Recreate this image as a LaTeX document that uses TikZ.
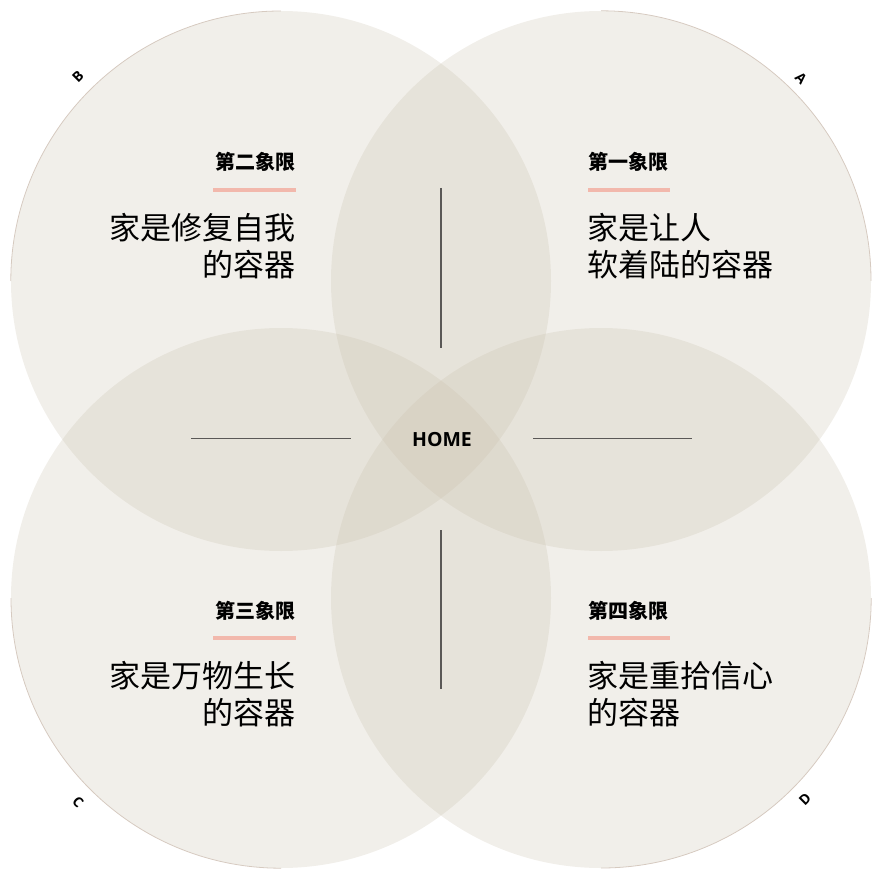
\documentclass[tikz,border=0pt]{standalone}
\usepackage{fontspec}
\newfontfamily\cjk{Noto Sans CJK SC}
\newfontfamily\osans{Open Sans}
\definecolor{circfill}{RGB}{199,191,171}
\definecolor{pinkbar}{RGB}{242,184,172}
\definecolor{rimc}{RGB}{214,202,192}
\definecolor{lineg}{RGB}{90,88,86}
\begin{document}
\begin{tikzpicture}[x=1pt,y=-1pt,
  petal/.style={circle, minimum size=540pt, inner sep=0pt, fill=circfill, fill opacity=0.25, draw=none},
  rim/.style={draw=rimc, line width=0.8pt},
  axisline/.style={draw=lineg, line width=1.5pt},
  bar/.style={draw=pinkbar, line width=4pt},
  title/.style={font=\cjk\bfseries\fontsize{20}{24}\selectfont, inner sep=0pt},
  body/.style={font=\cjk\fontsize{31}{36}\selectfont, inner sep=0pt},
  corner/.style={font=\osans\bfseries\fontsize{14}{16}\selectfont, inner sep=0pt}]
\useasboundingbox (0,0) rectangle (875,869);
% circles
\node[petal] (qB) at (281,281) {};
\node[petal] (qA) at (601,281) {};
\node[petal] (qC) at (281,598) {};
\node[petal] (qD) at (601,598) {};
% outer rims
\draw[rim] (qB.west) arc[start angle=180, end angle=270, radius=270];
\draw[rim] (qA.north) arc[start angle=270, end angle=360, radius=270];
\draw[rim] (qD.east) arc[start angle=0, end angle=90, radius=270];
\draw[rim] (qC.south) arc[start angle=90, end angle=180, radius=270];
% corner letters
\node[corner, rotate=45] (lB) at (78,77) {B};
\node[corner, rotate=-45] (lA) at (801,78) {A};
\node[corner, rotate=-45] (lC) at (78,802) {C};
\node[corner, rotate=45] (lD) at (805,799) {D};
% axes
\coordinate (vt1) at (441,188); \coordinate (vt2) at (441,348);
\coordinate (vb1) at (441,530); \coordinate (vb2) at (441,689);
\coordinate (hl1) at (191,438.5); \coordinate (hl2) at (351,438.5);
\coordinate (hr1) at (533,438.5); \coordinate (hr2) at (692,438.5);
\draw[axisline] (vt1) -- (vt2);
\draw[axisline] (vb1) -- (vb2);
\draw[axisline] (hl1) -- (hl2);
\draw[axisline] (hr1) -- (hr2);
% centre
\node[font=\osans\bfseries\fontsize{19.5}{22}\selectfont, inner sep=0pt] (home) at (442,440) {HOME};
% quadrant 2 (top left)
\node[title, anchor=base east] (t2) at (296,170) {第二象限};
\coordinate (b2s) at (213,190); \coordinate (b2e) at (296,190);
\draw[bar] (b2s) -- (b2e);
\node[body, anchor=base east] (x2a) at (296,240) {家是修复自我};
\node[body, anchor=base east] (x2b) at (296,276) {的容器};
% quadrant 1 (top right)
\node[title, anchor=base west] (t1) at (588,170) {第一象限};
\coordinate (b1s) at (588,190); \coordinate (b1e) at (670,190);
\draw[bar] (b1s) -- (b1e);
\node[body, anchor=base west] (x1a) at (587,240) {家是让人};
\node[body, anchor=base west] (x1b) at (587,276) {软着陆的容器};
% quadrant 3 (bottom left)
\node[title, anchor=base east] (t3) at (296,618) {第三象限};
\coordinate (b3s) at (213,638); \coordinate (b3e) at (296,638);
\draw[bar] (b3s) -- (b3e);
\node[body, anchor=base east] (x3a) at (296,687) {家是万物生长};
\node[body, anchor=base east] (x3b) at (296,724) {的容器};
% quadrant 4 (bottom right)
\node[title, anchor=base west] (t4) at (588,618) {第四象限};
\coordinate (b4s) at (588,638); \coordinate (b4e) at (670,638);
\draw[bar] (b4s) -- (b4e);
\node[body, anchor=base west] (x4a) at (587,687) {家是重拾信心};
\node[body, anchor=base west] (x4b) at (587,724) {的容器};
\end{tikzpicture}
\end{document}
